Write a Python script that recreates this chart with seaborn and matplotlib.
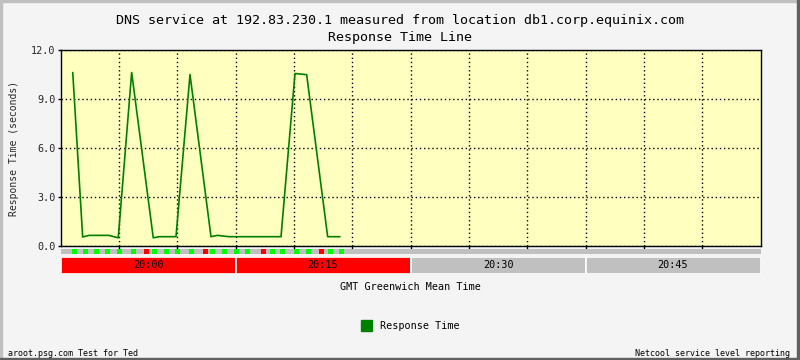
import matplotlib
matplotlib.use("Agg")
import matplotlib.pyplot as plt
from matplotlib.patches import Rectangle
import seaborn as sns
import pandas as pd

# ---------------- data ----------------
# minutes after 20:00 GMT
times = [1.05, 1.9, 2.45, 4.15, 4.95, 6.1, 7.95, 8.45, 9.9, 11.1, 12.9,
         13.45, 14.45, 18.9, 20.1, 21.1, 22.9, 23.95]
response = [10.62, 0.55, 0.65, 0.65, 0.5, 10.62, 0.5, 0.57, 0.57, 10.5,
            0.57, 0.65, 0.57, 0.57, 10.56, 10.49, 0.57, 0.57]

status_times = [1.23, 2.15, 3.06, 4.06, 5.07, 6.29, 7.41, 8.09, 9.12, 10.06,
                11.24, 12.46, 13.06, 14.09, 15.12, 16.06, 17.43, 18.15, 19.06,
                20.26, 21.29, 22.4, 23.12, 24.12]
status_ok = [1, 1, 1, 1, 1, 1, 0, 1, 1, 1, 1, 0, 1, 1, 1, 1, 0, 1, 1, 1, 1, 0, 1, 1]

band_labels = ["20:00", "20:15", "20:30", "20:45"]
band_start = [0, 15, 30, 45]
band_alert = [1, 1, 0, 0]

yticks = [0.0, 3.0, 6.0, 9.0, 12.0]
grid_minutes = [5, 10, 15, 20, 25, 30, 35, 40, 45, 50, 55]

title = "DNS service at 192.83.230.1 measured from location db1.corp.equinix.com\nResponse Time Line"
ylabel = "Response Time (seconds)"
xlabel = "GMT Greenwich Mean Time"
legend_label = "Response Time"
footer_left = "aroot.psg.com Test for Ted"
footer_right = "Netcool service level reporting"

# ---------------- style ----------------
sns.set_theme(style="white")
plt.rcParams["font.family"] = ["DejaVu Sans Mono"]

W, H = 800, 360
fig = plt.figure(figsize=(W / 100, H / 100), dpi=100, facecolor="#f4f4f4")


def fx(px):
    return px / W


def fy(py):
    return 1 - py / H


# outer 3D border
fig.patches.append(Rectangle((0, fy(2)), 1, 2 / H, transform=fig.transFigure,
                             color="#c0c0c0", zorder=0))
fig.patches.append(Rectangle((0, 0), 2 / W, 1, transform=fig.transFigure,
                             color="#c0c0c0", zorder=0))
fig.patches.append(Rectangle((0, 0), 1, 2 / H, transform=fig.transFigure,
                             color="#606060", zorder=0))
fig.patches.append(Rectangle((1 - 3 / W, 0), 3 / W, 1, transform=fig.transFigure,
                             color="#606060", zorder=0))

# main axes
L, R, T, B = 60.5, 760.5, 50, 246
ax = fig.add_axes([fx(L), fy(B), fx(R - L), (B - T) / H])
ax.set_facecolor("#ffffc0")
df = pd.DataFrame({"minute": times, "resp": response})
sns.lineplot(data=df, x="minute", y="resp", ax=ax, color="#008000", lw=1.2)
ax.set_xlim(0, 60)
ax.set_ylim(0, 12)
ax.set_yticks(yticks)
ax.set_yticklabels([f"{v:.1f}" for v in yticks], fontsize=7.3)
ax.set_xticks(grid_minutes)
ax.set_xticklabels([])
ax.tick_params(axis="both", length=2.5, width=1, color="black", direction="out",
               pad=1, left=True, bottom=True)
ax.grid(True, color="black", linestyle=(0, (1, 2)), linewidth=1)
for s in ax.spines.values():
    s.set_color("black")
    s.set_linewidth(1)
ax.set_xlabel("")
ax.set_ylabel(ylabel, fontsize=7.0, labelpad=9)

# status strip
sax = fig.add_axes([fx(L), fy(254), fx(R - L), 5.5 / H])
sax.set_facecolor("#c0c0c0")
for t, ok in zip(status_times, status_ok):
    sax.bar(t, 1, width=0.43, bottom=0, color="#00ff00" if ok else "#ff0000",
            align="center", linewidth=0)
sax.set_xlim(0, 60)
sax.set_ylim(0, 1)
sax.set_xticks([])
sax.set_yticks([])
for s in sax.spines.values():
    s.set_visible(False)

# time bands
bax = fig.add_axes([fx(L), fy(274), fx(R - L), 17.5 / H])
bax.set_facecolor("#f4f4f4")
for st, lab, al in zip(band_start, band_labels, band_alert):
    bax.bar(st, 1, width=15, align="edge", color="#ff0000" if al else "#c0c0c0",
            edgecolor="white", linewidth=1.2)
    bax.text(st + 7.5, 0.5, lab, ha="center", va="center", fontsize=7.3,
             color="black")
bax.set_xlim(0, 60)
bax.set_ylim(0, 1)
bax.set_xticks([])
bax.set_yticks([])
for s in bax.spines.values():
    s.set_visible(False)

# texts
fig.text(0.5, fy(29), title, ha="center", va="center", fontsize=9.6,
         linespacing=1.35, color="black")
fig.text(fx(410), fy(287), xlabel, ha="center", va="center", fontsize=7.3,
         color="black")
fig.patches.append(Rectangle((fx(361), fy(331)), 11 / W, 11 / H,
                             transform=fig.transFigure, color="#008000"))
fig.text(fx(380), fy(326), legend_label, ha="left", va="center", fontsize=7.3,
         color="black")
fig.text(fx(8), fy(353), footer_left, ha="left", va="center", fontsize=6,
         color="black")
fig.text(fx(790), fy(353), footer_right, ha="right", va="center", fontsize=6,
         color="black")

fig.savefig("out.png", dpi=100, facecolor=fig.get_facecolor())
